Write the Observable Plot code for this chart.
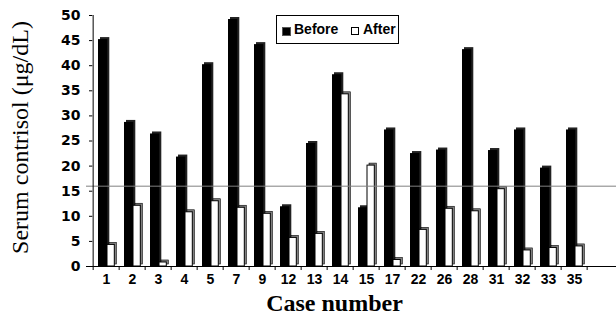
<!DOCTYPE html>
<html>
<head>
<meta charset="utf-8">
<script src="https://cdn.jsdelivr.net/npm/d3@7"></script>
<script src="https://cdn.jsdelivr.net/npm/@observablehq/plot@0.6"></script>
<style>
  body { margin: 0; background: #fff; }
  #wrap { position: relative; width: 616px; height: 322px; overflow: hidden; }
  .legend { position: absolute; left: 276px; top: 15px; width: 121px; height: 27px; border: 1px solid #000; background: #fff;
            font-family: "Liberation Sans", Arial, sans-serif; font-weight: bold; font-size: 14px; }
  .legend .sw { position: absolute; top: 11px; width: 7px; height: 7px; }
  .legend .lb { position: absolute; top: 5px; line-height: 16px; }
</style>
</head>
<body>
<div id="wrap"></div>
<script>
const cases = ["1","2","3","4","5","7","9","12","13","14","15","17","22","26","28","31","32","33","35"];
const before = [45.2, 28.7, 26.4, 21.8, 40.2, 49.2, 44.2, 11.9, 24.5, 38.2, 11.7, 27.2, 22.5, 23.2, 43.2, 23.1, 27.2, 19.6, 27.2];
const after  = [4.3, 12.1, 0.8, 10.8, 13.0, 11.7, 10.5, 5.7, 6.5, 34.3, 20.1, 1.3, 7.3, 11.5, 11.0, 15.4, 3.2, 3.7, 4.0];
const yTicks = [0, 5, 10, 15, 20, 25, 30, 35, 40, 45, 50];
const threshold = 16;
const seriesNames = ["Before", "After"];
const xTitle = "Case number";
const yTitle = "Serum contrisol (\u03bcg/dL)";

const domain = [...cases, " "];
const rows = cases.map((c, i) => ({case: c, before: before[i], after: after[i]}));

const left = 86, right = 620;
const bw = (right - left) / domain.length;
const sans = "Liberation Sans, Arial, sans-serif";
const wide = "DejaVu Sans, Verdana, sans-serif";
const serif = "Liberation Serif, Times New Roman, serif";

const chart = Plot.plot({
  width: 616,
  height: 322,
  marginLeft: left,
  marginRight: 0,
  marginTop: 15,
  marginBottom: 56,
  style: {background: "#fff", overflow: "visible"},
  x: {domain, range: [left, right], padding: 0, axis: null},
  y: {domain: [0, 50], axis: null},
  marks: [
    // Before bars (depth then front)
    Plot.barY(rows, {x: "case", y: "before", fill: "#222", insetLeft: 5, insetRight: bw - 15, dx: 2, dy: -2}),
    Plot.barY(rows, {x: "case", y: "before", fill: "#000", insetLeft: 5, insetRight: bw - 15}),
    // After bars
    Plot.barY(rows, {x: "case", y: "after", fill: "#808080", stroke: "#000", strokeWidth: 0.6, insetLeft: 14, insetRight: bw - 22, dx: 2, dy: -2}),
    Plot.barY(rows, {x: "case", y: "after", fill: "#fff", stroke: "#000", strokeWidth: 1, insetLeft: 14, insetRight: bw - 22}),
    // reference line
    Plot.ruleY([threshold], {stroke: "#808080", strokeWidth: 1}),
    // x axis line
    Plot.ruleY([0], {stroke: "#000", strokeWidth: 1}),
    // y axis line
    Plot.ruleX([domain[0]], {y1: 0, y2: 50, dx: -bw / 2, stroke: "#000"}),
    // y tick marks
    Plot.tickY(yTicks, {y: d => d, x: () => domain[0], insetRight: bw - 4, dx: -4, stroke: "#000"}),
    // y tick labels
    Plot.text(yTicks, {y: d => d, text: d => String(d), frameAnchor: "left", textAnchor: "end", dx: -6, fontSize: 14, fontWeight: "bold", fontFamily: wide, fill: "#000"}),
    // x tick marks at band edges
    Plot.ruleX(domain, {x: d => d, y1: 0, y2: -0.8, dx: -bw / 2, stroke: "#000"}),
    // x tick labels
    Plot.text(cases, {x: d => d, text: d => d, frameAnchor: "bottom", dy: 17, fontSize: 14, fontWeight: "bold", fontFamily: sans, fill: "#000"}),
    // titles
    Plot.text([xTitle], {frameAnchor: "bottom", dx: -17, dy: 44, fontFamily: serif, fontWeight: "bold", fontSize: 24, fill: "#000"}),
    Plot.text([yTitle], {frameAnchor: "left", textAnchor: "middle", rotate: -90, dx: -66, dy: -3.5, fontFamily: serif, fontSize: 24, fill: "#000"})
  ]
});

const wrap = document.getElementById("wrap");
wrap.appendChild(chart);

const legend = document.createElement("div");
legend.className = "legend";
legend.innerHTML =
  `<div class="sw" style="left:5px;background:#000;border:0.5px solid #555"></div>` +
  `<div class="lb" style="left:17px">${seriesNames[0]}</div>` +
  `<div class="sw" style="left:74px;background:#fff;border:1px solid #000;width:6px;height:6px"></div>` +
  `<div class="lb" style="left:86px">${seriesNames[1]}</div>`;
wrap.appendChild(legend);
</script>
</body>
</html>
